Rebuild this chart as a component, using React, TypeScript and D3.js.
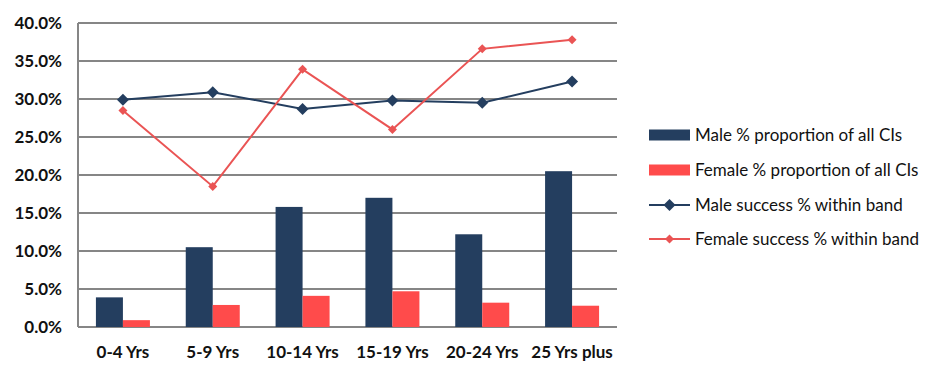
import React from "react";
import * as d3 from "d3";

const categories = ["0-4 Yrs", "5-9 Yrs", "10-14 Yrs", "15-19 Yrs", "20-24 Yrs", "25 Yrs plus"];
const maleProportion = [3.9, 10.5, 15.8, 17.0, 12.2, 20.5];
const femaleProportion = [0.9, 2.9, 4.1, 4.7, 3.2, 2.8];
const maleSuccess = [29.9, 30.9, 28.7, 29.8, 29.5, 32.3];
const femaleSuccess = [28.5, 18.5, 33.9, 26.0, 36.6, 37.8];
const yTicks = [0, 5, 10, 15, 20, 25, 30, 35, 40];
const legendLabels = [
  "Male % proportion of all CIs",
  "Female % proportion of all CIs",
  "Male success % within band",
  "Female success % within band",
];

const NAVY = "#243E5F";
const RED_BAR = "#FF4B4B";
const RED_LINE = "#EA5454";
const GRID = "#868686";
const FONT = "Lato, 'Open Sans', sans-serif";

export default function App() {
  const W = 945, H = 376;
  const left = 78, right = 617, top = 23, bottom = 327;
  const x = d3.scaleBand<string>().domain(categories).range([left, right]);
  const y = d3.scaleLinear().domain([0, 40]).range([bottom, top]);
  const barW = 27;
  const cx = (c: string) => (x(c) as number) + x.bandwidth() / 2;
  const line = d3.line<number>().x((_, i) => cx(categories[i])).y((v) => y(v));
  const diamond = (px: number, py: number, r: number) =>
    `M${px},${py - r}L${px + r},${py}L${px},${py + r}L${px - r},${py}Z`;

  const legendX = 649;
  const legendY = [135, 170, 205, 239];

  return (
    <svg width={W} height={H} style={{ position: "absolute", left: 0, top: 0, background: "#fff" }}>
      {yTicks.map((t) => (
        <g key={t}>
          <line x1={left} x2={right} y1={y(t)} y2={y(t)} stroke={GRID} strokeWidth={2} />
          <text x={62} y={y(t)} dy="0.35em" textAnchor="end" fontFamily={FONT} fontWeight="bold" fontSize={17} fill="#111">
            {t.toFixed(1)}%
          </text>
        </g>
      ))}
      <line x1={left} x2={left} y1={top} y2={bottom} stroke={GRID} strokeWidth={2} />
      {categories.map((c, i) => (
        <g key={c}>
          <rect x={cx(c) - barW} y={y(maleProportion[i])} width={barW} height={bottom - y(maleProportion[i])} fill={NAVY} />
          <rect x={cx(c)} y={y(femaleProportion[i])} width={barW} height={bottom - y(femaleProportion[i])} fill={RED_BAR} />
          <text x={cx(c)} y={352} dy="0.35em" textAnchor="middle" fontFamily={FONT} fontWeight="bold" fontSize={17} fill="#111">
            {c}
          </text>
        </g>
      ))}
      <path d={line(maleSuccess) || ""} fill="none" stroke={NAVY} strokeWidth={2} />
      {maleSuccess.map((v, i) => (
        <path key={"m" + i} d={diamond(cx(categories[i]), y(v), 6)} fill={NAVY} />
      ))}
      <path d={line(femaleSuccess) || ""} fill="none" stroke={RED_LINE} strokeWidth={2} />
      {femaleSuccess.map((v, i) => (
        <path key={"f" + i} d={diamond(cx(categories[i]), y(v), 4.5)} fill={RED_LINE} />
      ))}
      {/* legend */}
      <rect x={legendX} y={legendY[0] - 5.5} width={41} height={11} fill={NAVY} />
      <rect x={legendX} y={legendY[1] - 5.5} width={41} height={11} fill={RED_BAR} />
      <line x1={legendX} x2={legendX + 41} y1={legendY[2]} y2={legendY[2]} stroke={NAVY} strokeWidth={2} />
      <path d={diamond(legendX + 20.5, legendY[2], 6)} fill={NAVY} />
      <line x1={legendX} x2={legendX + 41} y1={legendY[3]} y2={legendY[3]} stroke={RED_LINE} strokeWidth={2} />
      <path d={diamond(legendX + 20.5, legendY[3], 4.5)} fill={RED_LINE} />
      {legendLabels.map((l, i) => (
        <text key={l} x={695} y={legendY[i]} dy="0.35em" fontFamily={FONT} fontSize={17} fill="#111">
          {l}
        </text>
      ))}
    </svg>
  );
}
